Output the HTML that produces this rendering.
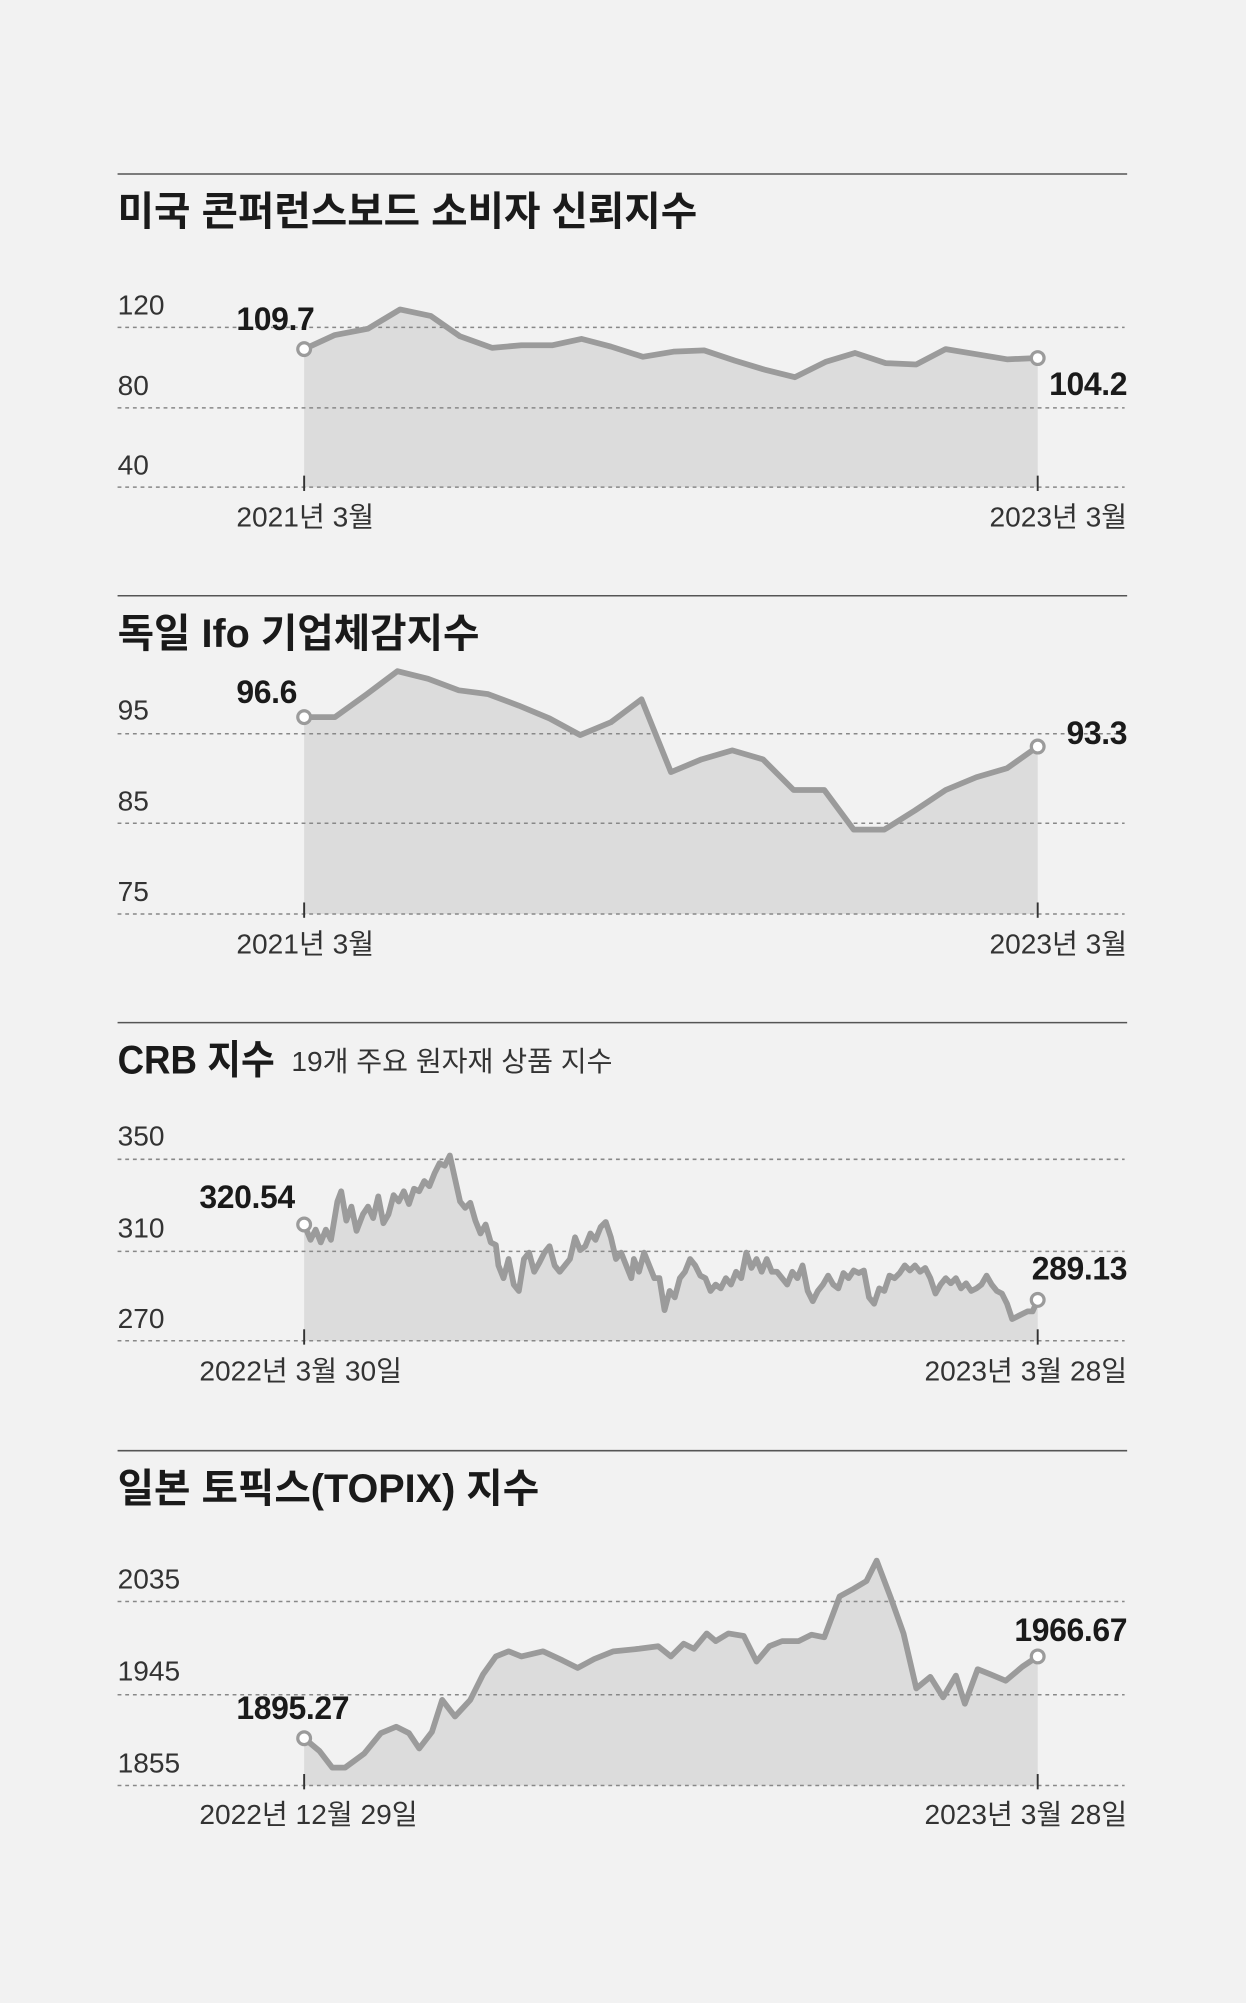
<!DOCTYPE html>
<html><head><meta charset="utf-8"><style>
html,body{margin:0;padding:0;background:#f2f2f2;}
svg{display:block}
text{font-family:"Liberation Sans","Noto Sans CJK KR",sans-serif;fill:#1a1a1a}
.t{font-size:31px;font-weight:bold;letter-spacing:0px}
.ax{font-size:22px;fill:#333;letter-spacing:0px}
.v{font-size:25px;font-weight:bold;letter-spacing:-0.3px}
.g{stroke:#888;stroke-width:1.2;stroke-dasharray:3,3;fill:none}
.a{fill:#dcdcdc;stroke:none}
.l{fill:none;stroke:#9b9b9b;stroke-width:4.5;stroke-linejoin:round;stroke-linecap:round}
.c{fill:#fff;stroke:#9b9b9b;stroke-width:2.5}
.r{stroke:#555;stroke-width:1.2}
.tk{stroke:#333;stroke-width:1.5}
</style></head><body>
<svg width="1246" height="2003" viewBox="0 0 975 1567" xmlns="http://www.w3.org/2000/svg">
<rect width="975" height="1567" fill="#f2f2f2"/>

<!-- Chart 1 -->
<line class="r" x1="92" y1="136" x2="882" y2="136"/>
<text class="t" x="92" y="176">미국 콘퍼런스보드 소비자 신뢰지수</text>
<polygon class="a" points="238,381 238,273 262,262 288,257 313,242 337,247 360,263 385,272 408,270 432,270 455,265 478,271 503,279 527,275 551,274 575,282 598,289 622,295 646,283 669,276 693,284 717,285 740,273 764,277 788,281 812,280 812,381"/>
<line class="g" x1="92" y1="256" x2="880" y2="256"/>
<line class="g" x1="92" y1="319" x2="880" y2="319"/>
<line class="g" x1="92" y1="381" x2="880" y2="381"/>
<text class="ax" x="92" y="246">120</text>
<text class="ax" x="92" y="309">80</text>
<text class="ax" x="92" y="371">40</text>
<polyline class="l" points="238,273 262,262 288,257 313,242 337,247 360,263 385,272 408,270 432,270 455,265 478,271 503,279 527,275 551,274 575,282 598,289 622,295 646,283 669,276 693,284 717,285 740,273 764,277 788,281 812,280"/>
<circle class="c" cx="238" cy="273" r="5"/><circle class="c" cx="812" cy="280" r="5"/>
<text class="v" x="185" y="258">109.7</text>
<text class="v" x="882" y="309" text-anchor="end">104.2</text>
<line class="tk" x1="238" y1="372" x2="238" y2="384"/><line class="tk" x1="812" y1="372" x2="812" y2="384"/>
<text class="ax" x="185" y="412">2021년 3월</text>
<text class="ax" x="882" y="412" text-anchor="end">2023년 3월</text>

<!-- Chart 2 -->
<line class="r" x1="92" y1="466" x2="882" y2="466"/>
<text class="t" x="92" y="506">독일 Ifo 기업체감지수</text>
<polygon class="a" points="238,715 238,561 262,561 287,543 311,525 335,531 359,540 382,543 406,552 430,562 454,575 478,565 502,547 525,604 549,594 573,587 597,594 621,618 645,618 668,649 692,649 716,634 740,618 764,608 788,601 812,584 812,715"/>
<line class="g" x1="92" y1="574" x2="880" y2="574"/>
<line class="g" x1="92" y1="644" x2="880" y2="644"/>
<line class="g" x1="92" y1="715" x2="880" y2="715"/>
<text class="ax" x="92" y="563">95</text>
<text class="ax" x="92" y="634">85</text>
<text class="ax" x="92" y="705">75</text>
<polyline class="l" points="238,561 262,561 287,543 311,525 335,531 359,540 382,543 406,552 430,562 454,575 478,565 502,547 525,604 549,594 573,587 597,594 621,618 645,618 668,649 692,649 716,634 740,618 764,608 788,601 812,584"/>
<circle class="c" cx="238" cy="561" r="5"/><circle class="c" cx="812" cy="584" r="5"/>
<text class="v" x="185" y="550">96.6</text>
<text class="v" x="882" y="582" text-anchor="end">93.3</text>
<line class="tk" x1="238" y1="706" x2="238" y2="718"/><line class="tk" x1="812" y1="706" x2="812" y2="718"/>
<text class="ax" x="185" y="746">2021년 3월</text>
<text class="ax" x="882" y="746" text-anchor="end">2023년 3월</text>

<!-- Chart 3 -->
<line class="r" x1="92" y1="800" x2="882" y2="800"/>
<text class="t" x="92" y="840" textLength="123" lengthAdjust="spacingAndGlyphs">CRB 지수</text>
<text class="ax" x="228" y="838">19개 주요 원자재 상품 지수</text>
<polygon class="a" points="238,1049 238,958 243,970 247,962 251,972 255,962 259,970 264,940 267,932 271,955 275,944 279,963 284,950 288,944 292,953 296,936 300,957 304,950 308,935 312,940 316,932 320,942 324,930 328,932 332,924 336,928 340,918 344,910 348,912 352,904 356,922 360,940 364,945 368,941 372,955 376,965 380,958 384,972 388,974 390,990 394,1000 398,985 402,1005 406,1010 410,985 414,980 418,995 422,988 426,980 430,975 434,990 438,995 442,990 446,985 450,968 454,978 458,975 462,965 466,970 470,960 474,956 478,968 482,985 486,980 490,990 494,1000 496,985 500,995 504,980 508,990 512,1000 516,1000 520,1025 524,1010 528,1015 532,1000 536,995 540,985 544,990 548,998 552,1000 556,1010 560,1005 564,1008 568,1000 572,1005 576,995 580,1000 584,980 588,992 592,985 596,995 600,985 604,995 608,995 612,1000 616,1005 620,995 624,1000 628,990 632,1010 636,1018 640,1010 644,1005 648,998 652,1005 656,1008 660,996 664,1000 668,994 672,996 676,994 680,1015 684,1020 688,1008 692,1010 696,998 700,1000 704,996 708,990 712,994 716,990 720,995 724,992 728,1000 732,1012 736,1005 740,1000 744,1004 748,1000 752,1008 756,1004 760,1010 764,1008 768,1005 772,998 776,1005 780,1010 784,1012 788,1020 792,1032 796,1030 800,1028 804,1026 808,1026 812,1017 812,1049"/>
<line class="g" x1="92" y1="907" x2="880" y2="907"/>
<line class="g" x1="92" y1="979" x2="880" y2="979"/>
<line class="g" x1="92" y1="1049" x2="880" y2="1049"/>
<text class="ax" x="92" y="896">350</text>
<text class="ax" x="92" y="968">310</text>
<text class="ax" x="92" y="1039">270</text>
<polyline class="l" points="238,958 243,970 247,962 251,972 255,962 259,970 264,940 267,932 271,955 275,944 279,963 284,950 288,944 292,953 296,936 300,957 304,950 308,935 312,940 316,932 320,942 324,930 328,932 332,924 336,928 340,918 344,910 348,912 352,904 356,922 360,940 364,945 368,941 372,955 376,965 380,958 384,972 388,974 390,990 394,1000 398,985 402,1005 406,1010 410,985 414,980 418,995 422,988 426,980 430,975 434,990 438,995 442,990 446,985 450,968 454,978 458,975 462,965 466,970 470,960 474,956 478,968 482,985 486,980 490,990 494,1000 496,985 500,995 504,980 508,990 512,1000 516,1000 520,1025 524,1010 528,1015 532,1000 536,995 540,985 544,990 548,998 552,1000 556,1010 560,1005 564,1008 568,1000 572,1005 576,995 580,1000 584,980 588,992 592,985 596,995 600,985 604,995 608,995 612,1000 616,1005 620,995 624,1000 628,990 632,1010 636,1018 640,1010 644,1005 648,998 652,1005 656,1008 660,996 664,1000 668,994 672,996 676,994 680,1015 684,1020 688,1008 692,1010 696,998 700,1000 704,996 708,990 712,994 716,990 720,995 724,992 728,1000 732,1012 736,1005 740,1000 744,1004 748,1000 752,1008 756,1004 760,1010 764,1008 768,1005 772,998 776,1005 780,1010 784,1012 788,1020 792,1032 796,1030 800,1028 804,1026 808,1026 812,1017"/>
<circle class="c" cx="238" cy="958" r="5"/><circle class="c" cx="812" cy="1017" r="5"/>
<text class="v" x="156" y="945">320.54</text>
<text class="v" x="882" y="1001" text-anchor="end">289.13</text>
<line class="tk" x1="238" y1="1040" x2="238" y2="1052"/><line class="tk" x1="812" y1="1040" x2="812" y2="1052"/>
<text class="ax" x="156" y="1080">2022년 3월 30일</text>
<text class="ax" x="882" y="1080" text-anchor="end">2023년 3월 28일</text>

<!-- Chart 4 -->
<line class="r" x1="92" y1="1135" x2="882" y2="1135"/>
<text class="t" x="92" y="1175">일본 토픽스(TOPIX) 지수</text>
<polygon class="a" points="238,1397 238,1360 250,1370 260,1383 270,1383 285,1372 298,1356 310,1351 320,1356 328,1368 338,1355 346,1330 356,1343 368,1330 378,1310 388,1296 398,1292 408,1296 425,1292 440,1299 452,1305 465,1298 480,1292 500,1290 515,1288 525,1296 535,1286 543,1290 553,1278 560,1284 570,1278 582,1280 592,1300 602,1288 612,1284 625,1284 635,1279 645,1281 657,1249 668,1243 678,1237 686,1221 697,1250 707,1278 717,1321 728,1312 738,1328 748,1311 755,1333 765,1306 775,1310 787,1315 800,1304 812,1296 812,1397"/>
<line class="g" x1="92" y1="1253" x2="880" y2="1253"/>
<line class="g" x1="92" y1="1326" x2="880" y2="1326"/>
<line class="g" x1="92" y1="1397" x2="880" y2="1397"/>
<text class="ax" x="92" y="1243">2035</text>
<text class="ax" x="92" y="1315">1945</text>
<text class="ax" x="92" y="1387">1855</text>
<polyline class="l" points="238,1360 250,1370 260,1383 270,1383 285,1372 298,1356 310,1351 320,1356 328,1368 338,1355 346,1330 356,1343 368,1330 378,1310 388,1296 398,1292 408,1296 425,1292 440,1299 452,1305 465,1298 480,1292 500,1290 515,1288 525,1296 535,1286 543,1290 553,1278 560,1284 570,1278 582,1280 592,1300 602,1288 612,1284 625,1284 635,1279 645,1281 657,1249 668,1243 678,1237 686,1221 697,1250 707,1278 717,1321 728,1312 738,1328 748,1311 755,1333 765,1306 775,1310 787,1315 800,1304 812,1296"/>
<circle class="c" cx="238" cy="1360" r="5"/><circle class="c" cx="812" cy="1296" r="5"/>
<text class="v" x="185" y="1345">1895.27</text>
<text class="v" x="882" y="1284" text-anchor="end">1966.67</text>
<line class="tk" x1="238" y1="1388" x2="238" y2="1400"/><line class="tk" x1="812" y1="1388" x2="812" y2="1400"/>
<text class="ax" x="156" y="1427">2022년 12월 29일</text>
<text class="ax" x="882" y="1427" text-anchor="end">2023년 3월 28일</text>
</svg>
</body></html>
